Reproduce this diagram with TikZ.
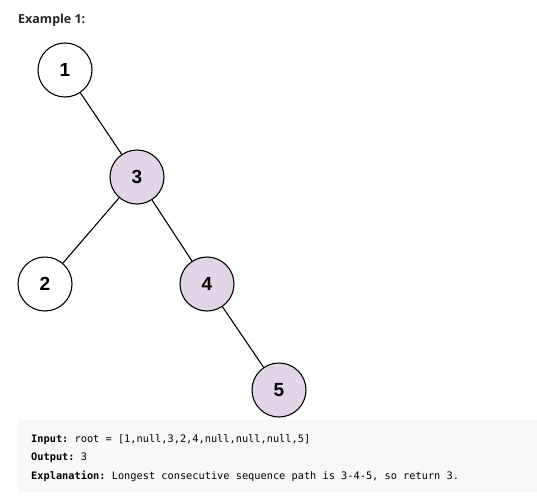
\documentclass[tikz,border=0pt]{standalone}
\usepackage{fontspec}
\setmainfont{Liberation Sans}
\setmonofont{DejaVu Sans Mono}
\newfontfamily\titlefont{Open Sans}
\usepackage{xcolor}
\definecolor{pathfill}{HTML}{E1D5E7}
\definecolor{codebg}{HTML}{F7F8FA}
\definecolor{titlegray}{HTML}{262626}
\usetikzlibrary{positioning}

\begin{document}
\begin{tikzpicture}[
x=1pt, y=-1pt,
treenode/.style={draw=black, circle, line width=1.1pt, minimum size=54pt, inner sep=0pt, font=\fontsize{19}{21}\selectfont\bfseries, fill=white},
onpath/.style={treenode, fill=pathfill},
edge/.style={line width=1.1pt, black},
codeline/.style={anchor=west, inner sep=0pt, font=\fontsize{10.3}{12}\ttfamily}
]
\useasboundingbox (0,0) rectangle (537,500);
% title
\node[anchor=base west, inner sep=0pt, font=\titlefont\fontsize{12.5}{14}\selectfont\bfseries, text=titlegray] (title) at (18,24) {Example 1:};
% tree
\node[treenode] (n1) at (65,70) {1};
\node[onpath] (n3) at (137,177) {3};
\node[treenode] (n2) at (45,284) {2};
\node[onpath] (n4) at (207,284) {4};
\node[onpath] (n5) at (279,390) {5};
\draw[edge] (n1) -- (n3);
\draw[edge] (n3) -- (n2);
\draw[edge] (n3) -- (n4);
\draw[edge] (n4) -- (n5);
% explanation box
\fill[codebg] (18,420) rectangle (537,492);
\node[codeline] (input) at (31,440) {\textbf{Input:} root = [1,null,3,2,4,null,null,null,5]};
\node[codeline] (output) at (31,458) {\textbf{Output:} 3};
\node[codeline] (expl) at (31,476) {\textbf{Explanation:} Longest consecutive sequence path is 3-4-5, so return 3.};
\end{tikzpicture}
\end{document}
